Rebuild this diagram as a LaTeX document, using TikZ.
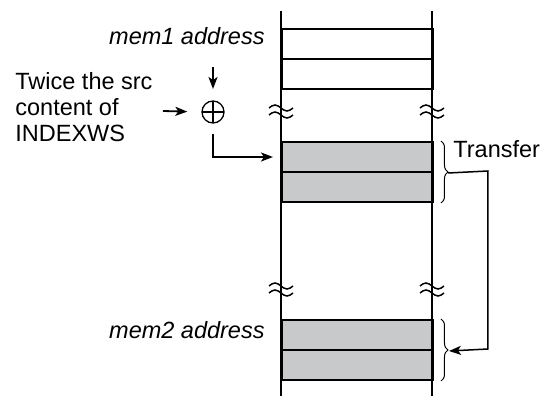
\documentclass[tikz,border=0pt]{standalone}
\usepackage{fontspec}
\setmainfont{Liberation Sans}
\usetikzlibrary{arrows.meta,positioning,calc,decorations.pathreplacing}
\definecolor{cellgray}{RGB}{200,201,203}
\tikzset{
  memcell/.style={draw, line width=1pt, minimum width=75.5pt, minimum height=15pt, inner sep=0pt, anchor=north west},
  grcell/.style={memcell, fill=cellgray},
  lbl/.style={inner sep=0pt, font=\fontsize{11.75}{13}\selectfont},
  addnode/.style={draw, circle, minimum size=11pt, inner sep=0pt, line width=0.65pt,
    path picture={\draw[line width=0.65pt] (path picture bounding box.north) -- (path picture bounding box.south)
      (path picture bounding box.west) -- (path picture bounding box.east);}},
  cline/.style={-{Stealth[length=6pt,width=4.5pt,inset=1.5pt]}, line width=0.9pt},
  memline/.style={line width=1.15pt},
  brc/.style={decorate, decoration={brace, amplitude=3.5pt}, line width=0.5pt},
  breakmark/.pic={
    \draw[line width=0.75pt] (-12,-3) sin (-6,-6) cos (0,-3) sin (6,0) cos (12,-3);
    \draw[line width=0.75pt] (-12,4) sin (-6,1) cos (0,4) sin (6,7) cos (12,4);
  },
}

\begin{document}
\begin{tikzpicture}[x=0.5pt, y=-0.5pt]
  \useasboundingbox (0,0) rectangle (548,396);

  % memory cells
  \node[memcell] (c1) at (281,28)  {};
  \node[memcell] (c2) at (281,58)  {};
  \node[grcell]  (g1) at (281,141) {};
  \node[grcell]  (g2) at (281,171) {};
  \node[grcell]  (g3) at (281,319) {};
  \node[grcell]  (g4) at (281,349) {};

  \draw[memline] (281,11) -- (281,396);
  \draw[memline] (432,11) -- (432,396);

  \pic at (281,111) {breakmark};
  \pic at (432,111) {breakmark};
  \pic at (281,289) {breakmark};
  \pic at (432,289) {breakmark};

  % labels
  \node[lbl, anchor=base east] (mem1) at (265,45) {\itshape mem1 address};
  \node[lbl, anchor=base east] (mem2) at (265,338) {\itshape mem2 address};
  \node[lbl, anchor=north west, align=left] (twice) at (15,72) {Twice the src\\content of\\INDEXWS};
  \node[lbl, anchor=base west] (transfer) at (453,157) {Transfer};

  \node[addnode] (plus) at (213,112) {};

  \coordinate (fromtop) at (213,67);
  \coordinate (fromleft) at (163,111);
  \draw[cline] (fromtop) -- (213,89);
  \draw[cline, shorten >=7pt] (fromleft) -- (plus.west);
  \draw[cline, shorten <=5pt, shorten >=4pt] (plus.south) |- (g1.west);

  % transfer braces
  \draw[brc] (g1.north east) ++(7,0) -- ($(g2.south east)+(7,0)$);
  \draw[brc] (g3.north east) ++(7,0) -- ($(g4.south east)+(7,0)$);
  \coordinate (tip1) at ($(g1.south east)+(14,0)$);
  \coordinate (tip2) at ($(g3.south east)+(15,0)$);
  \draw[cline, line width=0.75pt] (tip1) -- (488,171) -- (488,349) -- (tip2);
\end{tikzpicture}
\end{document}
